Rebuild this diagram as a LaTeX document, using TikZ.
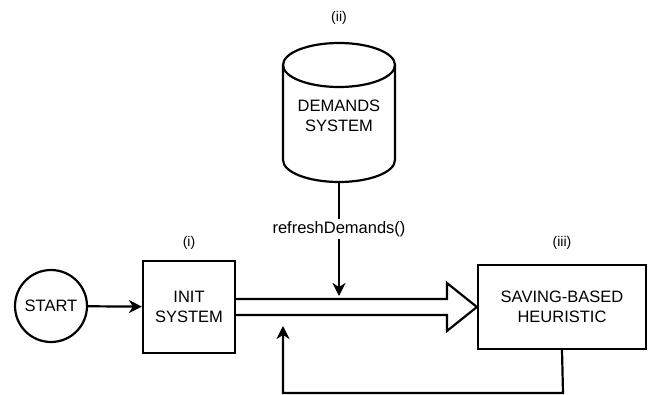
\documentclass[tikz,border=0pt]{standalone}
\usepackage{fontspec}
\setmainfont{Liberation Sans}
\usetikzlibrary{arrows.meta,calc}
\begin{document}
\begin{tikzpicture}[x=1pt,y=-1pt,
  every node/.style={font=\fontsize{16.5}{19.5}\selectfont, align=center, inner sep=0pt},
  box/.style={draw, line width=2.2pt, fill=white},
  line/.style={line width=2.2pt},
  arr/.style={line width=2.2pt, -{Stealth[length=13pt,width=13pt,inset=4pt]}},
  lbl/.style={font=\fontsize{14}{16}\selectfont}]
\useasboundingbox (0,0) rectangle (656,395);
% cylinder
\draw[line, fill=white] (283,65) -- (283,160) arc[start angle=180,end angle=0,x radius=56,y radius=22] -- (395,65) arc[start angle=360,end angle=180,x radius=56,y radius=22] -- cycle;
\draw[line] (283,65) arc[start angle=180,end angle=0,x radius=56,y radius=22];
\node (dem) at (339,116) {DEMANDS\\SYSTEM};
\coordinate (cylb) at (339,182);
\node[lbl] (lii) at (339,18) {(ii)};
% start
\node[draw, circle, line width=2.2pt, minimum size=72pt] (start) at (51,306) {START};
% init
\node[box, minimum width=92pt, minimum height=92pt] (init) at (189,307) {INIT\\SYSTEM};
\node[lbl] (li) at (189,243) {(i)};
% saving
\node[box, minimum width=168pt, minimum height=84pt] (sav) at (562,307) {SAVING-BASED\\HEURISTIC};
\node[lbl] (liii) at (562,243) {(iii)};
% arrows
\draw[arr] (start) -- (init);
\draw[line, fill=white, line join=miter] ($(init.east)+(0,-8)$) -- ($(sav.west)+(-30,-8)$) -- ($(sav.west)+(-30,-24)$) -- (sav.west) -- ($(sav.west)+(-30,24)$) -- ($(sav.west)+(-30,8)$) -- ($(init.east)+(0,8)$);
\coordinate (dtip) at (339,296);
\draw[arr] (cylb) -- (dtip);
\node[fill=white, inner sep=2pt] (rd) at (339,229) {refreshDemands()};
\coordinate (fb) at (283,326);
\draw[arr] (sav.south) -- (563,393) -| (fb);
\end{tikzpicture}
\end{document}
